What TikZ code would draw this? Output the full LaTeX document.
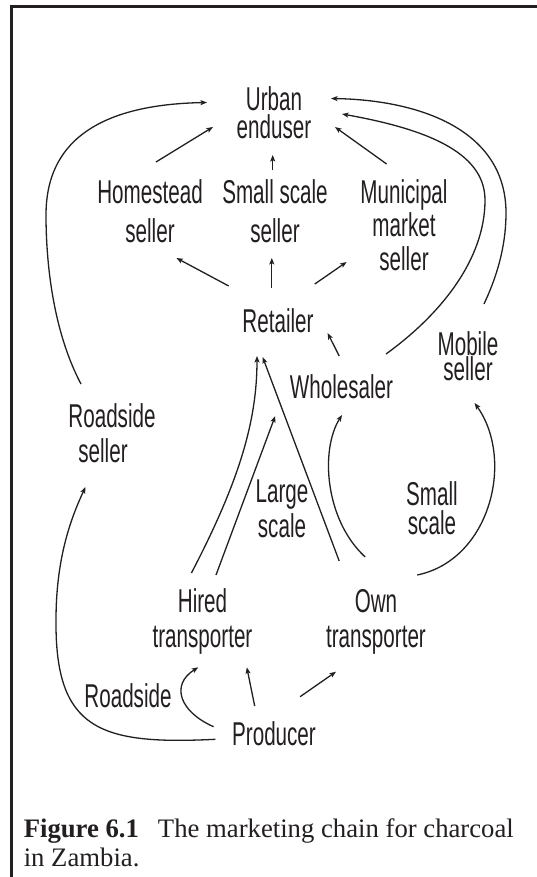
\documentclass[tikz,border=0pt]{standalone}
\usepackage{fontspec}
\usetikzlibrary{arrows.meta,calc}
\newfontfamily\labfont[FakeStretch=0.625]{Liberation Sans}
\newfontfamily\capfont{Liberation Serif}
\definecolor{ink}{RGB}{35,31,32}
\begin{document}
\begin{tikzpicture}[x=1pt,y=-1pt,
  lab/.style={font=\labfont\fontsize{33}{#1}\selectfont, align=center, anchor=base, inner sep=0pt, text=ink},
  lab/.default=35,
  conn/.style={draw=ink, line width=1.3pt, -{Stealth[length=6.5pt,width=5pt,inset=1.5pt]}},
  frame/.style={draw=ink, line width=2.5pt}]
\useasboundingbox (0,0) rectangle (536,877);
\fill[white] (0,0) rectangle (536,877);
\draw[frame] (11.5,880) -- (11.5,6.5) -- (540,6.5);

% nodes (anchor = baseline of the last line)
\node[lab=27.7] (ue) at (274,138.4) {Urban\\enduser};
\node[lab=38] (hs) at (150,242) {Homestead\\seller};
\node[lab=38] (ss) at (275,242) {Small scale\\seller};
\node[lab=33.5] (mm) at (404,270) {Municipal\\market\\seller};
\node[lab] (ret) at (278,332) {Retailer};
\node[lab] (who) at (341.5,398) {Wholesaler};
\node[lab=25] (mob) at (468,380) {Mobile\\seller};
\node[lab=35] (rs) at (112,462) {Roadside\\seller\hspace*{18pt}};
\node[lab=35] (lg) at (282,537) {Large\\scale};
\node[lab=29] (sm) at (432,534) {Small\\scale};
\node[lab=35] (ht) at (202.5,647) {Hired\\transporter};
\node[lab=35] (ot) at (376,647) {Own\\transporter};
\node[lab] (rl) at (128,707) {Roadside};
\node[lab] (pro) at (274,745) {Producer};

\node[anchor=base west, inner sep=0pt, align=left, text=ink,
  font=\capfont\fontsize{26.7}{29.3}\selectfont] (cap) at (23.6,866.8)
  {\textbf{Figure 6.1}\hspace{19pt}The marketing chain for charcoal\\in Zambia.};

% connectors
\draw[conn] ($(hs.base)+(6,-80)$) -- ($(ue.base)+(-61,-11.4)$);
\draw[conn] ($(ss.base)+(-2.3,-72)$) -- ($(ue.base)+(-1.3,16.6)$);
\draw[conn] ($(mm.base)+(-17.4,-106)$) -- ($(ue.base)+(61,-11.4)$);
\draw[conn] ($(ret.base)+(-49.3,-46)$) -- ($(hs.base)+(26.4,16)$);
\draw[conn] ($(ret.base)+(-6.2,-44)$) -- ($(ss.base)+(-3.2,16)$);
\draw[conn] ($(ret.base)+(36.8,-48)$) -- ($(mm.base)+(-57.4,-8)$);
\draw[conn] ($(rs.base)+(-31,-78)$) .. controls (55,335) and (46,270) .. (46,215)
  .. controls (46,165) and (70,105) .. ($(ue.base)+(-67,-35.9)$);
\draw[conn] ($(mob.base)+(16,-76)$) .. controls (500,270) and (506,240) .. (506,213)
  .. controls (506,130) and (420,100) .. ($(ue.base)+(57,-39.9)$);
\draw[conn] ($(who.base)+(44.5,-44)$) .. controls (440,315) and (485,260) .. (485,200)
  .. controls (485,150) and (420,128) .. ($(ue.base)+(68,-24.4)$);
\draw[conn] ($(who.base)+(-2.3,-42)$) -- ($(ret.base)+(49.6,1)$);
\draw[conn] ($(ht.base)+(-11.1,-74)$) .. controls (240,480) and (257,420) .. ($(ret.base)+(-21,24)$);
\draw[conn] ($(ht.base)+(13.5,-72)$) -- ($(ret.base)+(-2.8,84)$);
\draw[conn] ($(ot.base)+(-36.8,-86)$) -- ($(ret.base)+(-15.4,25)$);
\draw[conn] ($(ot.base)+(-10.8,-90)$) .. controls (325,520) and (320,450) .. ($(who.base)+(0.5,17)$);
\draw[conn] ($(ot.base)+(41.2,-72)$) .. controls (490,560) and (515,460) .. ($(mob.base)+(6.6,23)$);
\draw[conn] ($(pro.base)+(-58.6,-5.7)$) .. controls (100,745) and (55,730) .. (56,620)
  .. controls (56,560) and (70,520) .. ($(rs.base)+(-26.5,25)$);
\draw[conn] ($(pro.base)+(-60.4,-18.3)$) .. controls (180,712) and (170,685) .. ($(ht.base)+(-4.2,20.3)$);
\draw[conn] ($(pro.base)+(-19.3,-39)$) -- ($(ht.base)+(44.3,20.3)$);
\draw[conn] ($(pro.base)+(26.1,-48.3)$) -- ($(ot.base)+(-40,24.7)$);
\end{tikzpicture}
\end{document}
